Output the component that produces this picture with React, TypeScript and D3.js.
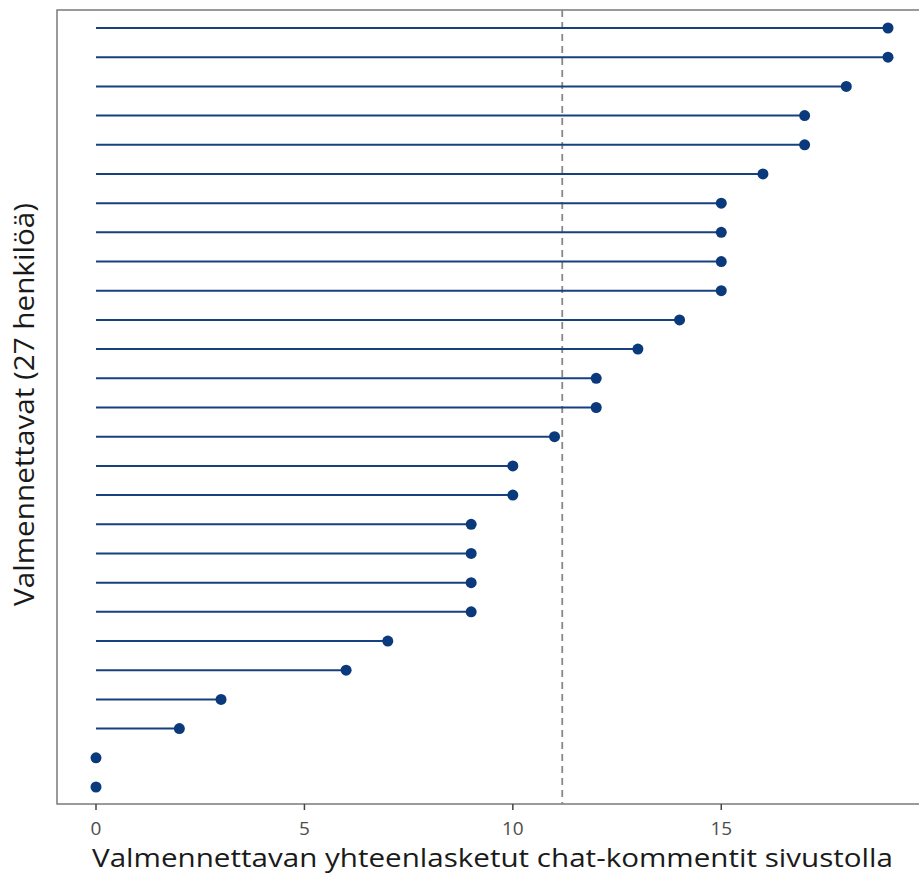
import React from "react";
import * as d3 from "d3";

const persons = d3.range(1, 28).map((i) => `P${i}`);
const comments = [19, 19, 18, 17, 17, 16, 15, 15, 15, 15, 14, 13, 12, 12, 11, 10, 10, 9, 9, 9, 9, 7, 6, 3, 2, 0, 0];
const xTicks = [0, 5, 10, 15];
const xTitle = "Valmennettavan yhteenlasketut chat-kommentit sivustolla";
const yTitle = "Valmennettavat (27 henkilöä)";

export default function App() {
  const W = 919, H = 877;
  const left = 57, top = 10, right = 922, bottom = 804;
  const x = d3.scaleLinear().domain([0, 19]).range([96, 888]);
  const y = d3.scalePoint().domain(persons).range([28, 787]);
  const mean = d3.mean(comments) as number;
  const font = "'Open Sans', 'Noto Sans', sans-serif";
  const navy = "#0b3a7c";
  return (
    <svg width={W} height={H} style={{ position: "absolute", left: 0, top: 0, background: "#fff" }}>
      <rect x={left} y={top} width={right - left} height={bottom - top} fill="none" stroke="#7a7a7a" strokeWidth={1.5} />
      <line x1={x(mean)} x2={x(mean)} y1={top} y2={bottom} stroke="#888" strokeWidth={1.8} strokeDasharray="7,5" />
      {comments.map((v, i) => (
        <g key={i}>
          <line x1={x(0)} x2={x(v)} y1={y(persons[i])} y2={y(persons[i])} stroke="#17407e" strokeWidth={2} />
          <circle cx={x(v)} cy={y(persons[i])} r={5.5} fill={navy} />
        </g>
      ))}
      {xTicks.map((t) => (
        <g key={t}>
          <line x1={x(t)} x2={x(t)} y1={bottom} y2={bottom + 6} stroke="#444" strokeWidth={1.5} />
          <text x={x(t)} y={835} textAnchor="middle" fontFamily={font} fontSize={19} fill="#4d4d4d">{t}</text>
        </g>
      ))}
      <text x={(92 + 893) / 2} y={867} textAnchor="middle" fontFamily={font} fontSize={25} fill="#1a1a1a" textLength={801} lengthAdjust="spacingAndGlyphs">{xTitle}</text>
      <text transform={`translate(34, ${(203 + 606) / 2}) rotate(-90)`} textAnchor="middle" fontFamily={font} fontSize={27} fill="#1a1a1a" textLength={403} lengthAdjust="spacingAndGlyphs">{yTitle}</text>
    </svg>
  );
}
